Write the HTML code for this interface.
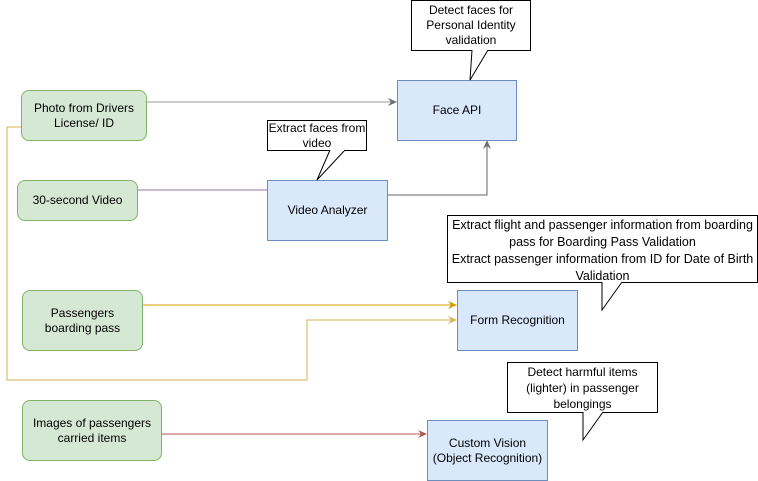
<!DOCTYPE html>
<html><head><style>
body{margin:0;width:758px;height:481px;background:#fff;position:relative;font-family:"Liberation Sans",sans-serif;font-size:12px;overflow:hidden}
.b{position:absolute;display:flex;align-items:center;justify-content:center;text-align:center;box-sizing:border-box;line-height:15px}
.g{background:#d5e8d4;border:1px solid #82b366;border-radius:8px}
.u{background:#dae8fc;border:1px solid #6c8ebf}
.c{background:#fff;border:1px solid #000}
svg{position:absolute;left:0;top:0}
</style></head><body>
<svg width="758" height="481">
<defs>
<marker id="ag" markerWidth="10" markerHeight="10" refX="8" refY="5" orient="auto" markerUnits="userSpaceOnUse"><path d="M0,1 L9,5 L0,9 L3,5z" fill="#6d6d6d"/></marker>
<marker id="ao" markerWidth="10" markerHeight="10" refX="8" refY="5" orient="auto" markerUnits="userSpaceOnUse"><path d="M0,1 L9,5 L0,9 L3,5z" fill="#d79b00"/></marker>
<marker id="ay" markerWidth="10" markerHeight="10" refX="8" refY="5" orient="auto" markerUnits="userSpaceOnUse"><path d="M0,1 L9,5 L0,9 L3,5z" fill="#d6b656"/></marker>
<marker id="ar" markerWidth="10" markerHeight="10" refX="8" refY="5" orient="auto" markerUnits="userSpaceOnUse"><path d="M0,1 L9,5 L0,9 L3,5z" fill="#b85450"/></marker>
</defs>
<path d="M146,102 H396" stroke="#999" fill="none" marker-end="url(#ag)"/>
<path d="M21,127 H7 V380 H307 V320 H456" stroke="#d6b656" fill="none" marker-end="url(#ay)"/>
<path d="M137,190 H267" stroke="#9673a6" fill="none"/>
<path d="M387,195 H487 V141" stroke="#666" fill="none" marker-end="url(#ag)"/>
<path d="M143,305 H456" stroke="#d79b00" fill="none" marker-end="url(#ao)"/>
<path d="M162,434 H426" stroke="#b85450" fill="none" marker-end="url(#ar)"/>
</svg>
<div class="b g" style="left:21px;top:90px;width:126px;height:51px">Photo from Drivers<br>License/ ID</div>
<div class="b g" style="left:17px;top:180px;width:121px;height:41px">30-second Video</div>
<div class="b g" style="left:22px;top:290px;width:121px;height:61px">Passengers<br>boarding pass</div>
<div class="b g" style="left:22px;top:400px;width:140px;height:61px">Images of passengers<br>carried items</div>
<div class="b u" style="left:397px;top:80px;width:120px;height:61px">Face API</div>
<div class="b u" style="left:267px;top:180px;width:121px;height:61px">Video Analyzer</div>
<div class="b u" style="left:457px;top:290px;width:121px;height:61px">Form Recognition</div>
<div class="b u" style="left:427px;top:420px;width:121px;height:61px">Custom Vision<br>(Object Recognition)</div>
<div class="b c" style="left:411px;top:0px;width:120px;height:51px;align-items:flex-start;padding-top:2px">Detect faces for<br>Personal Identity<br>validation</div>
<div class="b c" style="left:267px;top:120px;width:100px;height:31px;align-items:flex-start">Extract faces from<br>video</div>
<div class="b c" style="left:447px;top:215px;width:311px;height:68px;align-items:flex-start;padding-top:1px;line-height:17px;font-size:12.5px;white-space:nowrap">Extract flight and passenger information from boarding<br>pass for Boarding Pass Validation<br>Extract passenger information from ID for Date of Birth<br>Validation</div>
<div class="b c" style="left:507px;top:362px;width:151px;height:51px;align-items:flex-start;padding-top:1px;line-height:16px">Detect harmful items<br>(lighter) in passenger<br>belongings</div>
<svg width="758" height="481">
<path d="M472,50 L470,80 L488,50" fill="#fff" stroke="#000"/><path d="M473,50 H487" stroke="#fff" stroke-width="2"/>
<path d="M330,150 L317,180 L345,150" fill="#fff" stroke="#000"/><path d="M331,150 H344" stroke="#fff" stroke-width="2"/>
<path d="M602,282 L602,310 L622,282" fill="#fff" stroke="#000"/><path d="M603,282 H621" stroke="#fff" stroke-width="2"/>
<path d="M583,412 L583,440 L603,412" fill="#fff" stroke="#000"/><path d="M584,412 H602" stroke="#fff" stroke-width="2"/>
</svg>
</body></html>
